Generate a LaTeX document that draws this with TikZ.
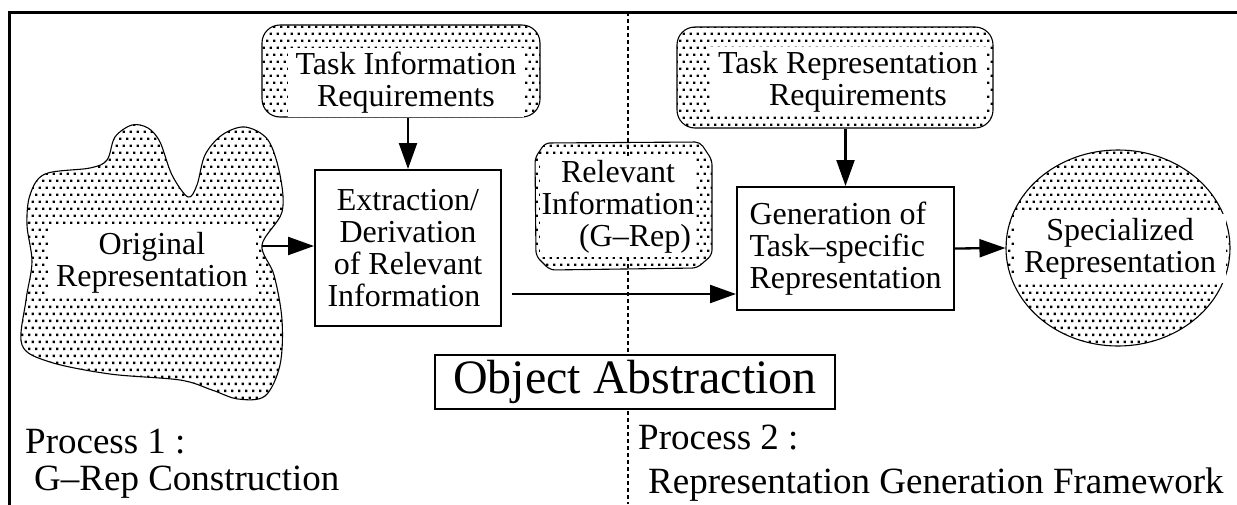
\documentclass[tikz,border=0pt]{standalone}
\usepackage{fontspec}
\setmainfont{Liberation Serif}
\usetikzlibrary{arrows.meta,patterns,shapes.geometric}
\pgfdeclarepatternformonly{pdots}{\pgfpoint{-1pt}{-1pt}}{\pgfpoint{8pt}{15pt}}{\pgfpoint{7pt}{14pt}}{%
 \pgfpathrectangle{\pgfpoint{0pt}{0pt}}{\pgfpoint{2.3pt}{2.3pt}}%
 \pgfpathrectangle{\pgfpoint{3.5pt}{7pt}}{\pgfpoint{2.3pt}{2.3pt}}%
 \pgfusepath{fill}}
\begin{document}
\begin{tikzpicture}[x=1pt,y=-1pt,
  txt/.style={font=\fontsize{32}{32}\selectfont, align=center},
  wbg/.style={txt, fill=white, inner xsep=8pt, inner ysep=4pt},
  dotfill/.style={draw, line width=1.1pt, pattern=pdots},
  plainbox/.style={draw, line width=2pt, fill=white, txt, inner sep=0pt},
  arr/.style={line width=2.3pt, -{Triangle[length=26pt,width=18pt]}},
  proc/.style={font=\fontsize{37}{37}\selectfont, align=left, anchor=north west, inner sep=0pt}]
\useasboundingbox (0,0) rectangle (1237,504);
% frame
\draw[line width=3pt] (9,510) -- (9,12) -- (1242,12);
% divider
\draw[line width=1.8pt, dash pattern=on 4pt off 3pt] (628,12) -- (628,504);
% original representation blob
\draw[dotfill] plot[smooth cycle, tension=0.55] coordinates {
 (30,195) (45,174) (90,168) (107,160) (115,137) (132,125) (148,128) (160,142)
 (172,175) (188,197) (197,185) (205,155) (222,135) (245,127) (268,140) (280,175)
 (282,212) (262,245) (274,275) (282,320) (280,365) (265,396) (238,399) (212,390)
 (180,380) (110,374) (50,362) (22,345) (26,300) (32,262) (27,225)};
\node[wbg] (orig) at (152,263) {Original\\Representation};
% task information requirements
\node[dotfill, rounded corners=18pt, minimum width=278pt, minimum height=92pt] (tirB) at (401,71) {};
\node[wbg] (tir) at (406,82.5) {Task Information\\Requirements};
% extraction box
\node[plainbox, minimum width=186pt, minimum height=156pt] (ext) at (408,248) {Extraction/\\Derivation\\of Relevant\\Information\hspace*{8pt}};
% relevant information
\draw[dotfill, rounded corners=5pt] (545,143) -- (700,142) -- (712,160) -- (712,255) -- (697,268) -- (550,270) -- (536,256) -- (535,158) -- cycle;
\node[wbg, inner xsep=2pt, inner ysep=3pt] (rel) at (618,207) {Relevant\\Information\\\hspace*{34pt}(G–Rep)};
% task representation requirements
\node[dotfill, rounded corners=18pt, minimum width=316pt, minimum height=101pt] (trrB) at (835,77.5) {};
\node[wbg] (trr) at (848,81.5) {Task Representation\\\hspace*{20pt}Requirements};
% generation box
\node[plainbox, minimum width=217pt, minimum height=123pt, align=left] (gen) at (845.5,248.5) {Generation of\\Task–specific\\Representation};
% specialized representation
\node[ellipse, dotfill, minimum width=224pt, minimum height=196pt, inner sep=0pt] (specE) at (1118,248) {};
\node[wbg, inner xsep=10pt] (spec) at (1120,248.5) {Specialized\\Representation};
% object abstraction
\node[draw, line width=2pt, fill=white, font=\fontsize{48}{48}\selectfont, minimum width=400pt, minimum height=54pt, inner sep=0pt] (oa) at (635,382) {Object Abstraction};
% process labels
\node[proc] (p1) at (25,429) {Process 1 :\\\hspace*{9pt}G–Rep Construction};
\node[proc] (p2) at (638,425) {Process 2 :\\[7pt]\hspace*{10pt}Representation Generation Framework};
% connectors
\coordinate (blobR) at (262,246);
\draw[arr] (blobR) -- (ext.west |- blobR);
\draw[arr] (ext.north |- tirB.south) -- (ext.north);
\coordinate (la) at (512,294);
\draw[arr] (la) -- (gen.west |- la);
\draw[arr] (gen.north |- trrB.south) -- (gen.north);
\draw[arr] (gen.east) -- (specE.west);
\end{tikzpicture}
\end{document}
